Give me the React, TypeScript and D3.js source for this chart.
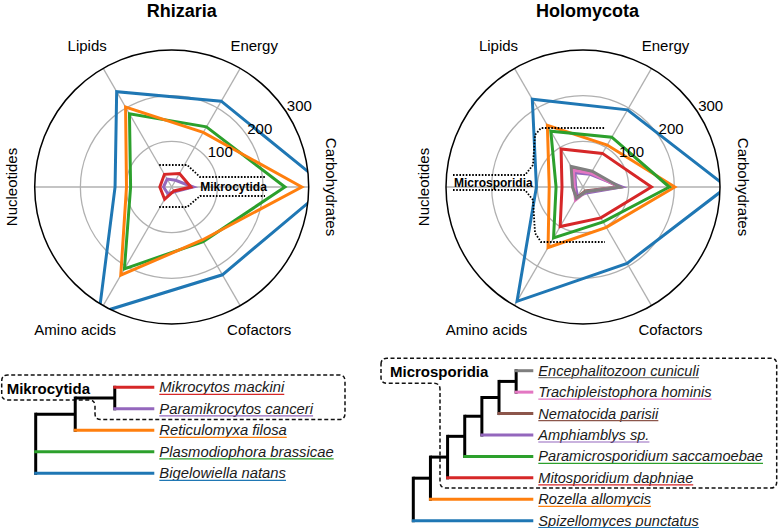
import React from "react";
import * as d3 from "d3";

const AXES = ["Carbohydrates", "Energy", "Lipids", "Nucleotides", "Amino acids", "Cofactors"];
const RING_TICKS = [100, 200, 300];
const R_MAX = 300;

const RHIZARIA_SPECIES = ["Mikrocytos mackini", "Paramikrocytos canceri", "Reticulomyxa filosa", "Plasmodiophora brassicae", "Bigelowiella natans"];
const RHIZARIA_COLORS = ["#d62728", "#9467bd", "#ff7f0e", "#2ca02c", "#1f77b4"];
const RHIZARIA_VALUES = [
  [42, 34, 32, 26, 31, 10],
  [47, 17, 20, 18, 17, 12],
  [285, 138, 202, 99, 223, 134],
  [248, 152, 185, 90, 207, 138],
  [340, 217, 241, 124, 318, 222],
];
const RHIZARIA_TREE = [[["Mikrocytos mackini", "Paramikrocytos canceri"], "Reticulomyxa filosa"], "Plasmodiophora brassicae", "Bigelowiella natans"];

const HOLO_SPECIES = ["Encephalitozoon cuniculi", "Trachipleistophora hominis", "Nematocida parisii", "Amphiamblys sp.", "Paramicrosporidium saccamoebae", "Mitosporidium daphniae", "Rozella allomycis", "Spizellomyces punctatus"];
const HOLO_COLORS = ["#7f7f7f", "#e377c2", "#8c564b", "#9467bd", "#2ca02c", "#d62728", "#ff7f0e", "#1f77b4"];
const HOLO_VALUES = [
  [81, 40, 52, 23, 29, 12],
  [80, 35, 42, 19, 33, 12],
  [78, 38, 48, 22, 28, 10],
  [85, 32, 36, 16, 24, 15],
  [189, 126, 141, 59, 129, 88],
  [150, 85, 96, 46, 100, 78],
  [201, 106, 156, 74, 153, 102],
  [315, 195, 222, 102, 289, 193],
];
const HOLO_TREE = [[[[[[["Encephalitozoon cuniculi", "Trachipleistophora hominis"], "Nematocida parisii"], "Amphiamblys sp."], "Paramicrosporidium saccamoebae"], "Mitosporidium daphniae"], "Rozella allomycis"], "Spizellomyces punctatus"];

const FONT = "'Liberation Sans', Arial, Helvetica, sans-serif";
const GRID = "#b0b0b0";

// axis label nudges (layout only)
const LABEL_NUDGE = [[0, 0], [1, 0], [-3, 0], [0, 0], [-15, 1], [6, 1]];

function measure(text: string, font: string) {
  const c = document.createElement("canvas").getContext("2d")!;
  c.font = font;
  return c.measureText(text).width;
}

function Radar({ cx, cy, title, titleDx, values, colors, species, clipId, bracket, bracketLabel, bracketLabelPos }: any) {
  const R = 137;
  const r = d3.scaleLinear().domain([0, R_MAX]).range([0, R]);
  const theta = (i: number) => (i * Math.PI) / 3;
  const line = d3
    .lineRadial<number>()
    .angle((_, i) => Math.PI / 2 - theta(i))
    .radius((v) => r(v))
    .curve(d3.curveLinearClosed);
  const order = d3.range(values.length).reverse();
  return (
    <g>
      <text x={cx + titleDx} y={17} textAnchor="middle" fontFamily={FONT} fontWeight="bold" fontSize={18}>{title}</text>
      <defs>
        <clipPath id={clipId}>
          <circle cx={cx} cy={cy} r={R} />
        </clipPath>
      </defs>
      {RING_TICKS.slice(0, -1).map((t) => (
        <circle key={t} cx={cx} cy={cy} r={r(t)} fill="none" stroke={GRID} strokeWidth={1.3} />
      ))}
      {AXES.map((a, i) => (
        <line key={a} x1={cx} y1={cy} x2={cx + R * Math.cos(theta(i))} y2={cy - R * Math.sin(theta(i))} stroke={GRID} strokeWidth={1.3} />
      ))}
      <g clipPath={`url(#${clipId})`}>
        {order.map((k) => (
          <path key={species[k]} d={line(values[k]) as string} transform={`translate(${cx},${cy})`} fill="none" stroke={colors[k]} strokeWidth={3} strokeLinejoin="miter" />
        ))}
      </g>
      <circle cx={cx} cy={cy} r={R} fill="none" stroke="#000" strokeWidth={1.5} />
      {RING_TICKS.map((t) => {
        const a = Math.PI / 6;
        return (
          <text key={t} x={cx + r(t) * Math.cos(a) + 9} y={cy - r(t) * Math.sin(a) - 13} textAnchor="middle" dominantBaseline="central" fontFamily={FONT} fontSize={15}>{t}</text>
        );
      })}
      {AXES.map((a, i) => {
        const th = theta(i);
        if (i === 0 || i === 3) {
          const x = cx + 160 * Math.cos(th);
          return (
            <text key={a} transform={`translate(${x},${cy}) rotate(${i === 0 ? 90 : -90})`} textAnchor="middle" dominantBaseline="central" fontFamily={FONT} fontSize={15}>{a}</text>
          );
        }
        const x = cx + 163 * Math.cos(th) + LABEL_NUDGE[i][0];
        const y = cy - 163 * Math.sin(th) + LABEL_NUDGE[i][1];
        return (
          <text key={a} x={x} y={y} textAnchor="middle" dominantBaseline="central" fontFamily={FONT} fontSize={15}>{a}</text>
        );
      })}
      {bracket.map((pts: number[][], j: number) => (
        <path key={j} d={d3.line()(pts.map((p) => [cx + p[0], cy + p[1]]) as any) as string} fill="none" stroke="#000" strokeWidth={1.8} strokeDasharray="1.6 1.6" />
      ))}
      <text x={cx + bracketLabelPos[0]} y={cy + bracketLabelPos[1]} dominantBaseline="central" fontFamily={FONT} fontWeight="bold" fontSize={12}>{bracketLabel}</text>
    </g>
  );
}

function Tree({ tree, species, colors, x0, xLeaf, y0, dy, fontSize, box, boxLabel, boxLabelPos }: any) {
  const root = d3.hierarchy<any>(tree, (d) => (Array.isArray(d) ? d : null));
  const step = (xLeaf - x0) / root.height;
  const pos = new Map<any, { x: number; y: number }>();
  root.leaves().forEach((l, i) => pos.set(l, { x: xLeaf, y: y0 + i * dy }));
  root.eachAfter((n) => {
    if (n.children) {
      const ys = n.children.map((c) => pos.get(c)!.y);
      pos.set(n, { x: x0 + n.depth * step, y: (ys[0] + ys[ys.length - 1]) / 2 });
    }
  });
  const colorOf = (name: string) => colors[species.indexOf(name)];
  const font = `italic ${fontSize}px 'Liberation Sans', Arial, sans-serif`;
  const nodes = root.descendants();
  const { left, top, right, bottom, nx, ny } = box;
  const rr = 6;
  const boxPath = `M${left},${top + rr} Q${left},${top} ${left + rr},${top} H${right - rr} Q${right},${top} ${right},${top + rr} V${bottom - rr} Q${right},${bottom} ${right - rr},${bottom} H${nx + rr} Q${nx},${bottom} ${nx},${bottom - rr} V${ny + rr} Q${nx},${ny} ${nx - rr},${ny} H${left + rr} Q${left},${ny} ${left},${ny - rr} Z`;
  return (
    <g>
      <path d={boxPath} fill="none" stroke="#111" strokeWidth={1.5} strokeDasharray="4 2.5" />
      <text x={boxLabelPos[0]} y={boxLabelPos[1]} dominantBaseline="central" fontFamily={FONT} fontWeight="bold" fontSize={15}>{boxLabel}</text>
      {nodes.filter((n) => n.parent).filter((n) => n.children).map((n, i) => {
        const p = pos.get(n)!, pp = pos.get(n.parent)!;
        return <line key={"h" + i} x1={pp.x} x2={p.x} y1={p.y} y2={p.y} stroke="#000" strokeWidth={3} />;
      })}
      {nodes.filter((n) => n.children).map((n, i) => {
        const p = pos.get(n)!;
        const ys = n.children!.map((c) => pos.get(c)!.y);
        return <line key={"v" + i} x1={p.x} x2={p.x} y1={ys[0] - 1.5} y2={ys[ys.length - 1] + 1.5} stroke="#000" strokeWidth={3} />;
      })}
      {root.leaves().map((l) => {
        const p = pos.get(l)!, pp = pos.get(l.parent!)!;
        const name = l.data as string;
        const w = measure(name, font);
        const tx = xLeaf + 5;
        return (
          <g key={name}>
            <line x1={pp.x - 1.5} x2={p.x} y1={p.y} y2={p.y} stroke={colorOf(name)} strokeWidth={3} />
            <text x={tx} y={p.y + 5} fontFamily={FONT} fontStyle="italic" fontSize={fontSize} fill="#1a1a1a">{name}</text>
            <line x1={tx} x2={tx + w} y1={p.y + 7} y2={p.y + 7} stroke={colorOf(name)} strokeWidth={1.2} />
          </g>
        );
      })}
    </g>
  );
}

const MIKRO_BRACKET = [
  [[-12.5, -22], [15.5, -22], [28.3, -10], [93.3, -10]],
  [[-12.5, 20], [15.5, 20], [28.3, 9], [93.3, 9]],
];
const MICRO_BRACKET = [
  [[-130, -12], [-58, -12], [-50, -22], [-48, -52], [-42, -59], [22, -59]],
  [[-130, 3], [-58, 3], [-50, 13], [-48, 46], [-42, 55], [22, 55]],
];

export default function App() {
  React.useEffect(() => {
    document.body.style.margin = "0";
  }, []);
  return (
    <svg width={779} height={528} style={{ position: "absolute", left: 0, top: 0, background: "#fff" }}>
      <rect width={779} height={528} fill="#fff" />
      <Radar cx={171.7} cy={187} title="Rhizaria" titleDx={10} values={RHIZARIA_VALUES} colors={RHIZARIA_COLORS} species={RHIZARIA_SPECIES} clipId="clipL" bracket={MIKRO_BRACKET} bracketLabel="Mikrocytida" bracketLabelPos={[28.5, 0]} />
      <Radar cx={583} cy={187} title="Holomycota" titleDx={4.5} values={HOLO_VALUES} colors={HOLO_COLORS} species={HOLO_SPECIES} clipId="clipR" bracket={MICRO_BRACKET} bracketLabel="Microsporidia" bracketLabelPos={[-129, -4.5]} />
      <Tree tree={RHIZARIA_TREE} species={RHIZARIA_SPECIES} colors={RHIZARIA_COLORS} x0={35.7} xLeaf={154.3} y0={387.3} dy={21.5} fontSize={14.8}
        box={{ left: 1.7, top: 375, right: 345, bottom: 419.5, nx: 95, ny: 400 }} boxLabel="Mikrocytida" boxLabelPos={[6.7, 388.3]} />
      <Tree tree={HOLO_TREE} species={HOLO_SPECIES} colors={HOLO_COLORS} x0={413.3} xLeaf={533.3} y0={370.7} dy={21.43} fontSize={14.6}
        box={{ left: 381, top: 358.3, right: 776.7, bottom: 488, nx: 440, ny: 383.3 }} boxLabel="Microsporidia" boxLabelPos={[390, 371.7]} />
    </svg>
  );
}
